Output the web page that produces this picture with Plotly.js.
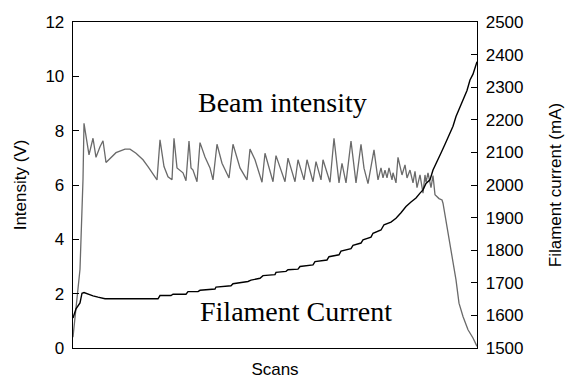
<!DOCTYPE html>
<html>
<head>
<meta charset="utf-8">
<script src="https://cdn.plot.ly/plotly-3.0.1.min.js"></script>
<style>html,body{margin:0;padding:0;background:#fff;}#chart{width:568px;height:384px;}</style>
</head>
<body>
<div id="chart"></div>
<script>
// Beam intensity (V) vs scan number
const beamScans = [0,4,7,8,10,11,16,20,23,27,30,33,37,43,52,57,63,70,75,80,84,87,91,95,99,101,104,110,113,116,118,120,124,127,132,137,140,144,149,156,160,167,174,177,182,189,192,200,203,212,215,222,225,231,234,240,243,248,250,257,261,266,269,273,278,283,288,291,295,301,303,305,308,310,312,314,316,319,320,323,325,329,332,334,337,340,342,344,347,350,352,353,355,358,360,362,366,369,370,375,378,383,386,390,395,400,404];
const beamIntensity = [0.4,1.8,2.9,4.0,6.2,8.27,7.11,7.72,7.02,7.41,7.63,6.83,6.99,7.19,7.32,7.32,7.17,6.93,6.68,6.41,6.19,7.66,6.68,6.3,6.19,7.72,6.63,6.45,6.16,7.62,6.63,6.55,6.12,7.56,7.03,6.63,6.19,7.5,6.8,6.26,7.5,6.63,6.19,7.32,6.93,6.1,7.17,6.12,7.08,6.12,6.99,6.12,6.93,6.19,6.93,6.12,6.86,6.19,6.93,6.1,7.72,6.08,6.8,6.08,7.62,6.08,7.5,6.62,6.05,7.29,6.63,6.19,6.63,6.26,6.55,6.26,6.63,6.19,6.45,6.08,7.02,6.37,6.74,6.26,6.55,6.08,6.5,5.9,6.37,5.7,6.37,6.1,6.45,5.9,6.35,5.64,5.5,5.45,5.33,4.23,3.49,2.51,1.65,1.16,0.67,0.37,0.06];

// Filament current (mA) vs scan number
const filScans = [0,3,7,9,11,15,20,25,32,85,87,98,100,113,115,125,127,142,143,158,160,175,178,187,190,202,203,213,215,225,227,240,242,254,256,266,268,278,280,288,290,298,300,308,311,318,323,328,333,338,343,347,350,353,357,360,364,368,372,377,380,383,387,390,394,397,400,404];
const filCurrent = [1592,1620,1638,1668,1670,1665,1660,1656,1651,1651,1661,1661,1665,1665,1673,1673,1677,1681,1687,1691,1697,1704,1708,1714,1722,1725,1732,1735,1740,1742,1750,1755,1765,1770,1780,1786,1797,1805,1815,1822,1832,1840,1852,1862,1878,1886,1898,1915,1934,1948,1960,1975,1985,2005,2016,2046,2070,2098,2125,2159,2180,2210,2240,2261,2290,2322,2340,2378];

const leftTicks = [0,2,4,6,8,10,12];
const rightTicks = [1500,1600,1700,1800,1900,2000,2100,2200,2300,2400,2500];

const traces = [
  {x: beamScans, y: beamIntensity, type: 'scatter', mode: 'lines', name: 'Beam intensity',
   line: {color: '#6a6a6a', width: 1.3}, yaxis: 'y'},
  {x: filScans, y: filCurrent, type: 'scatter', mode: 'lines', name: 'Filament Current',
   line: {color: '#000000', width: 1.4}, yaxis: 'y2'}
];

const tickFont = {family: 'Liberation Sans, Arial, sans-serif', size: 17, color: '#000'};
const titleFont = {family: 'Liberation Sans, Arial, sans-serif', size: 17, color: '#000'};

const layout = {
  width: 568, height: 384,
  margin: {l: 73, r: 91, t: 22, b: 36, pad: 0},
  paper_bgcolor: '#fff', plot_bgcolor: '#fff',
  showlegend: false,
  xaxis: {range: [0, 404], showgrid: false, zeroline: false, showticklabels: false, ticks: '',
          showline: true, linecolor: '#000', linewidth: 1.3, mirror: true,
          title: {text: 'Scans', font: titleFont, standoff: 14}},
  yaxis: {range: [0, 12], tickvals: leftTicks, showgrid: false, zeroline: false,
          ticks: 'inside', ticklen: 6, tickcolor: '#000', tickwidth: 1,
          showline: true, linecolor: '#000', linewidth: 1.3,
          tickfont: tickFont, ticklabelstandoff: 4,
          title: {text: 'Intensity (V)', font: titleFont, standoff: 14}},
  yaxis2: {range: [1500, 2500], tickvals: rightTicks, overlaying: 'y', side: 'right',
          showgrid: false, zeroline: false,
          ticks: 'inside', ticklen: 6, tickcolor: '#000', tickwidth: 1,
          showline: true, linecolor: '#000', linewidth: 1.3,
          tickfont: tickFont, ticklabelstandoff: 4,
          title: {text: 'Filament current (mA)', font: titleFont, standoff: 26}},
  annotations: [
    {text: 'Beam intensity', xref: 'paper', yref: 'paper', x: 0.519, y: 0.752,
     xanchor: 'center', yanchor: 'middle', showarrow: false,
     font: {family: 'Liberation Serif, Times New Roman, serif', size: 28, color: '#000'}},
    {text: 'Filament Current', xref: 'paper', yref: 'paper', x: 0.551, y: 0.113,
     xanchor: 'center', yanchor: 'middle', showarrow: false,
     font: {family: 'Liberation Serif, Times New Roman, serif', size: 28, color: '#000'}}
  ]
};

Plotly.newPlot('chart', traces, layout, {displayModeBar: false, staticPlot: true});
</script>
</body>
</html>
